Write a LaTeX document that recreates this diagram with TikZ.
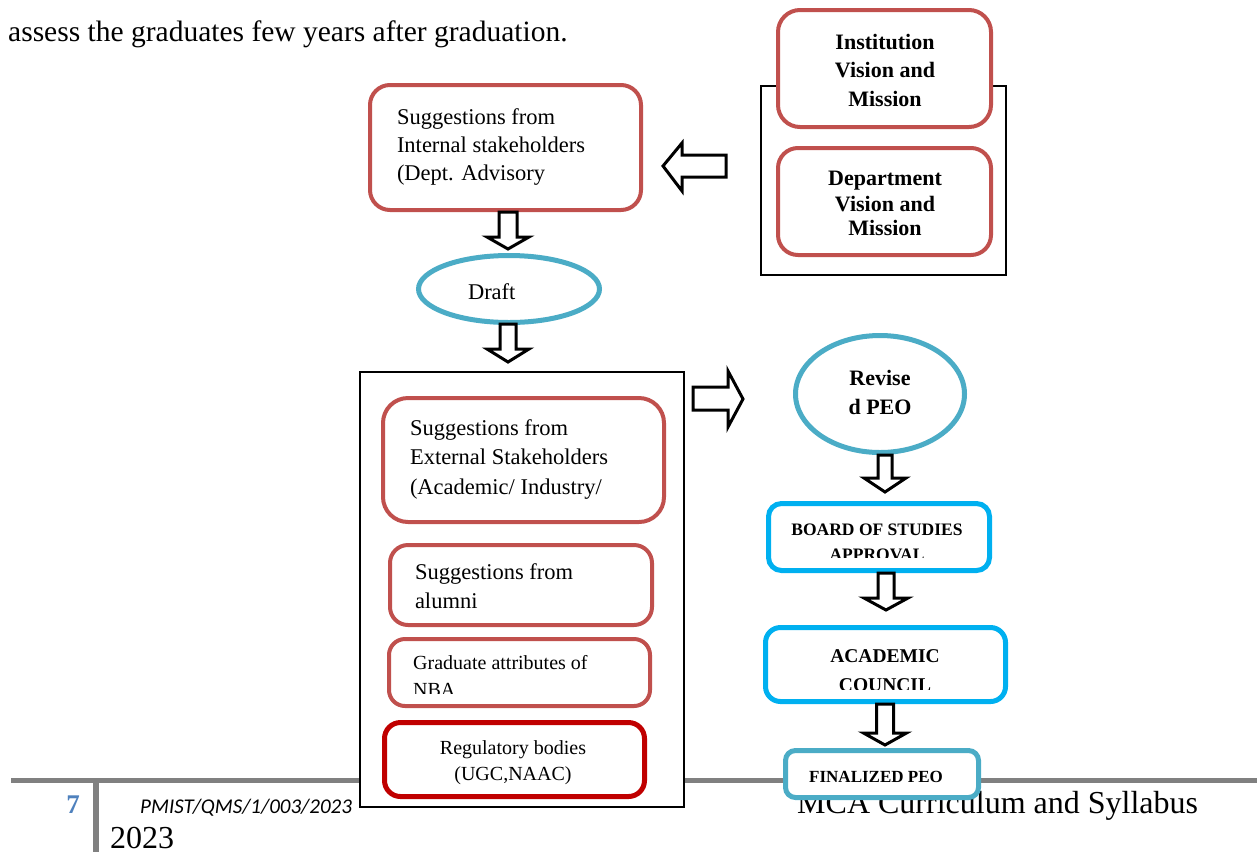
\documentclass[tikz,border=0pt]{standalone}
\usepackage{fontspec}
\setmainfont{Liberation Serif}
\newfontfamily\calibrifont{Carlito}
\usetikzlibrary{shapes.geometric}
\definecolor{boxred}{HTML}{C0504D}
\definecolor{darkred}{HTML}{C00000}
\definecolor{tealc}{HTML}{4BACC6}
\definecolor{skyb}{HTML}{00B0F0}
\definecolor{footgray}{HTML}{808080}
\definecolor{numblue}{HTML}{4F81BD}
\newcommand{\dnarrow}[6]{% cx, top, base, tip, shaft half width, head half width
  \draw[blockarrow] ({#1-#5},#2) -- ({#1+#5},#2) -- ({#1+#5},#3) -- ({#1+#6},#3) -- (#1,#4) -- ({#1-#6},#3) -- ({#1-#5},#3) -- cycle;}
\tikzset{
  redbox/.style={rectangle, draw=boxred, line width=4pt, rounded corners=#1, fill=white, inner sep=0pt, outer sep=0pt},
  redbox/.default=18pt,
  regbox/.style={rectangle, draw=darkred, line width=5pt, rounded corners=16pt, fill=white, inner sep=0pt, outer sep=0pt},
  bluebox/.style={rectangle, draw=skyb, line width=5pt, rounded corners=#1, fill=white, inner sep=0pt, outer sep=0pt},
  bluebox/.default=13pt,
  tealbox/.style={rectangle, draw=tealc, line width=5pt, rounded corners=10pt, fill=white, inner sep=0pt, outer sep=0pt},
  oval/.style={ellipse, draw=tealc, line width=5pt, fill=white, inner sep=0pt, outer sep=0pt},
  frame/.style={rectangle, draw=black, line width=2pt, fill=white, inner sep=0pt, outer sep=0pt},
  blockarrow/.style={draw=black, line width=3pt, fill=white, line join=miter},
  txt/.style={inner sep=0pt, outer sep=0pt, font=\fontsize{22.5}{26}\selectfont},
  btxt/.style={inner sep=0pt, outer sep=0pt, font=\bfseries\fontsize{22}{26}\selectfont},
  footline/.style={draw=footgray, line width=#1},
}
\begin{document}
\begin{tikzpicture}[x=1pt,y=-1pt]
\useasboundingbox (0,0) rectangle (1257,852);
% heading text
\node[anchor=base west, inner sep=0pt, font=\fontsize{29.5}{34}\selectfont] (head) at (8,41) {assess the graduates few years after graduation.};
% footer
\coordinate (fl) at (11,780);
\coordinate (fr) at (1257,780);
\coordinate (vt) at (96,780);
\coordinate (vb) at (96,852);
\draw[footline=5pt] (fl) -- (fr);
\draw[footline=6pt] (vt) -- (vb);
\node[anchor=base east, inner sep=0pt, text=numblue, font=\bfseries\fontsize{27}{30}\selectfont] (pgnum) at (80,813) {7};
\node[anchor=base west, inner sep=0pt, font=\calibrifont\itshape\fontsize{21}{25}\selectfont] (docid) at (140,813) {PMIST/QMS/1/003/2023};
\node[anchor=base west, inner sep=0pt, font=\fontsize{32}{36}\selectfont] (mca) at (797,813) {MCA Curriculum and Syllabus};
\node[anchor=base west, inner sep=0pt, font=\fontsize{32}{36}\selectfont] (yr) at (110,848) {2023};

% internal stakeholders
\node[redbox=20pt, minimum width=271, minimum height=125] (internal) at (505.5,147.5) {};
\node[txt, anchor=base west] (int1) at (397,124) {Suggestions from};
\node[txt, anchor=base west] (int2) at (397,152) {Internal stakeholders};
\node[txt, anchor=base west] (int3) at (397,180) {(Dept. Advisory};

% vision / mission frame
\node[frame, minimum width=245, minimum height=189] (vmframe) at (883.5,180.5) {};
\node[redbox=22pt, minimum width=213, minimum height=117] (inst) at (884.5,68.5) {};
\node[btxt, anchor=base] (inst1) at (885,49) {Institution};
\node[btxt, anchor=base] (inst2) at (885,77) {Vision and};
\node[btxt, anchor=base] (inst3) at (885,106) {Mission};
\node[redbox=20pt, minimum width=213, minimum height=107] (dept) at (884.5,201.5) {};
\node[btxt, anchor=base] (dept1) at (885,185) {Department};
\node[btxt, anchor=base] (dept2) at (885,211) {Vision and};
\node[btxt, anchor=base] (dept3) at (885,235) {Mission};

% arrow from vision/mission to internal
\draw[blockarrow] (663,166) -- (682,143) -- (682,155) -- (726,155) -- (726,177) -- (682,177) -- (682,191) -- cycle;

% draft
\node[oval, minimum width=181, minimum height=67] (draft) at (509,289) {};
\node[txt, anchor=base west] (draftt) at (468,299) {Draft};
\dnarrow{508}{212}{237}{249}{9}{21}
\dnarrow{508}{324}{349}{362}{8}{21}

% big stakeholder frame
\node[frame, minimum width=324, minimum height=435] (stake) at (522,589.5) {};
\node[redbox=25pt, minimum width=281, minimum height=124] (ext) at (523.5,460) {};
\node[txt, anchor=base west] (ext1) at (410,435) {Suggestions from};
\node[txt, anchor=base west] (ext2) at (410,464) {External Stakeholders};
\node[txt, anchor=base west] (ext3) at (410,494) {(Academic/ Industry/};
\node[redbox=18pt, minimum width=262, minimum height=80] (alum) at (521,585) {};
\node[txt, anchor=base west] (alum1) at (415,579) {Suggestions from};
\node[txt, anchor=base west] (alum2) at (415,608) {alumni};
\node[redbox=16pt, minimum width=261, minimum height=67] (grad) at (519.5,672.5) {};
\node[inner sep=0pt, font=\fontsize{20}{24}\selectfont, anchor=base west] (grad1) at (413,669) {Graduate attributes of};
\begin{scope}
\clip (400,675) rectangle (640,693);
\node[inner sep=0pt, font=\fontsize{20}{24}\selectfont, anchor=base west] (grad2) at (413,696) {NBA};
\end{scope}
\node[regbox, minimum width=260, minimum height=74] (reg) at (514.5,759.5) {};
\node[inner sep=0pt, font=\fontsize{20}{24}\selectfont, anchor=base] (reg1) at (513,754) {Regulatory bodies};
\node[inner sep=0pt, font=\fontsize{20}{24}\selectfont, anchor=base] (reg2) at (513,780) {(UGC,NAAC)};

% arrow to revised
\draw[blockarrow] (693,387) -- (728,387) -- (728,371) -- (743,399) -- (728,427) -- (728,410) -- (693,410) -- cycle;

% revised PEO
\node[oval, minimum width=169, minimum height=117] (rev) at (880,394) {};
\node[btxt, anchor=base] (rev1) at (880,385) {Revise};
\node[btxt, anchor=base] (rev2) at (880,414) {d PEO};
\dnarrow{885}{455}{478}{492}{7}{21}

% board of studies
\node[bluebox=13pt, minimum width=221, minimum height=67] (bos) at (879,537) {};
\node[inner sep=0pt, font=\bfseries\fontsize{17.5}{20}\selectfont, anchor=base] (bos1) at (877,535) {BOARD OF STUDIES};
\begin{scope}
\clip (780,540) rectangle (980,557.5);
\node[inner sep=0pt, font=\bfseries\fontsize{17.5}{20}\selectfont, anchor=base] (bos2) at (877,560) {APPROVAL};
\end{scope}
\dnarrow{886}{573}{598}{610}{8}{22}

% academic council
\node[bluebox=15pt, minimum width=240, minimum height=74] (ac) at (885.5,664.5) {};
\node[inner sep=0pt, font=\bfseries\fontsize{19.5}{22}\selectfont, anchor=base] (ac1) at (885,662) {ACADEMIC};
\begin{scope}
\clip (780,670) rectangle (990,689.5);
\node[inner sep=0pt, font=\bfseries\fontsize{19.5}{22}\selectfont, anchor=base] (ac2) at (885,691) {COUNCIL};
\end{scope}
\dnarrow{885}{704}{733}{745}{8.5}{21.5}

% finalized PEO
\node[tealbox, minimum width=193, minimum height=47] (fin) at (882,774) {};
\node[inner sep=0pt, font=\bfseries\fontsize{17}{20}\selectfont, anchor=base west] (fin1) at (809,782) {FINALIZED PEO};
\end{tikzpicture}
\end{document}
